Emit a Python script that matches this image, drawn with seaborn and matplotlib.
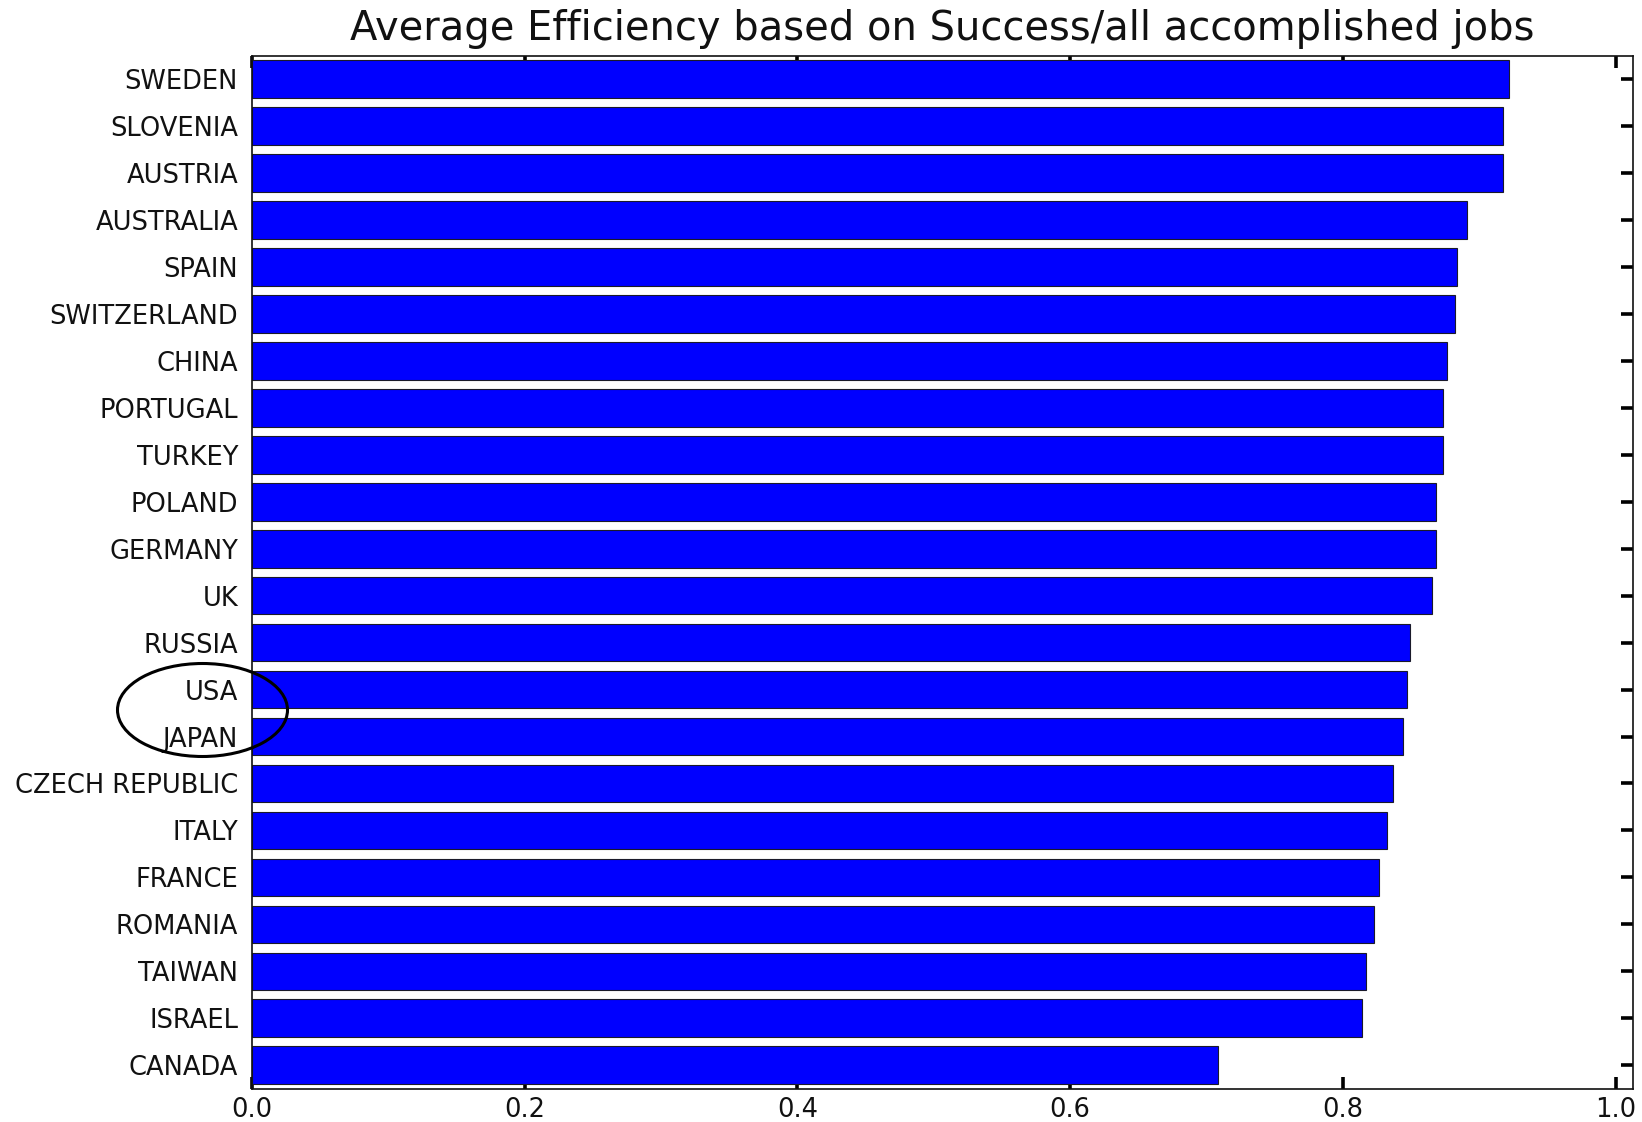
import matplotlib
matplotlib.use("Agg")
import matplotlib.pyplot as plt
from matplotlib.patches import Ellipse
import pandas as pd
import seaborn as sns

countries = [
    "SWEDEN", "SLOVENIA", "AUSTRIA", "AUSTRALIA", "SPAIN", "SWITZERLAND",
    "CHINA", "PORTUGAL", "TURKEY", "POLAND", "GERMANY", "UK", "RUSSIA",
    "USA", "JAPAN", "CZECH REPUBLIC", "ITALY", "FRANCE", "ROMANIA",
    "TAIWAN", "ISRAEL", "CANADA",
]
efficiency = [
    0.9217, 0.9173, 0.9173, 0.8913, 0.8838, 0.8823,
    0.8762, 0.8733, 0.8733, 0.8686, 0.8686, 0.8654, 0.8491,
    0.8473, 0.8444, 0.8368, 0.8324, 0.8263, 0.8231,
    0.8170, 0.8141, 0.7082,
]
x_ticks = [0.0, 0.2, 0.4, 0.6, 0.8, 1.0]
title = "Average Efficiency based on Success/all accomplished jobs"

sns.set_style("white")
plt.rcParams["font.family"] = ["DejaVu Sans"]

df = pd.DataFrame({"country": countries, "efficiency": efficiency})

fig = plt.figure(figsize=(16.42, 11.22), dpi=100)
ax = fig.add_axes([252 / 1642, 1 - 1088.7 / 1122,
                   (1632.7 - 252) / 1642, (1088.7 - 55.7) / 1122])

sns.barplot(data=df, x="efficiency", y="country", orient="h", ax=ax,
            color="#0000ff", saturation=1, width=0.8,
            edgecolor="#1a1a2a", linewidth=0.8, errorbar=None)

ax.set_xlim(0, 1.0126)
ax.set_xticks(x_ticks)
ax.set_xticklabels([f"{t:.1f}" for t in x_ticks])
ax.set_xlabel("")
ax.set_ylabel("")

ax.tick_params(axis="both", direction="in", length=8.6, width=2.6,
               color="black", labelcolor="#111111", labelsize=18.5)
ax.tick_params(axis="x", top=True, bottom=True, pad=6.0)
ax.tick_params(axis="y", left=True, right=True, pad=10)
for lbl in ax.get_yticklabels():
    lbl.set_y(lbl.get_position()[1])
    lbl.set_verticalalignment("center_baseline")

for side in ["top", "bottom", "left", "right"]:
    ax.spines[side].set_visible(True)
    ax.spines[side].set_color("#111111")
    ax.spines[side].set_linewidth(1.2)

ax.set_title(title, fontsize=28.8, pad=11.5, color="#111111")

# highlight the USA / JAPAN labels
ring = Ellipse((202.5 / 1642, 1 - 710 / 1122), 170 / 1642, 93 / 1122,
               transform=fig.transFigure, fill=False, edgecolor="black",
               linewidth=2.2, zorder=10)
fig.patches.append(ring)

fig.savefig("out.png", dpi=100)
